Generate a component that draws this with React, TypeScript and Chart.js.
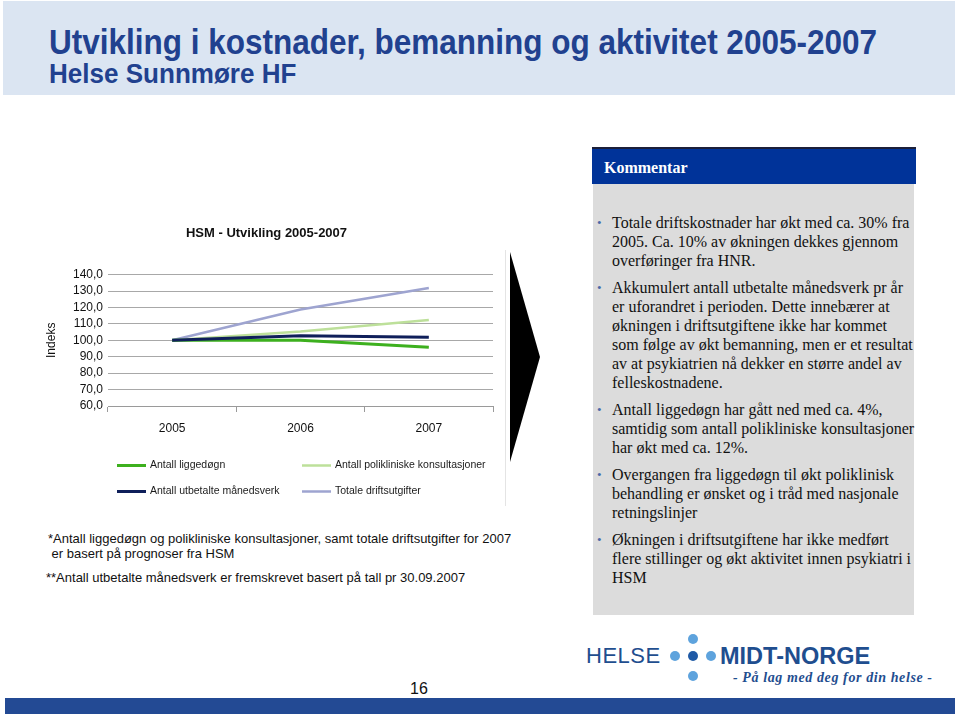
import React, { useEffect, useRef } from 'react';
import { Chart, registerables } from 'chart.js';

Chart.register(...registerables);

// ---- data ----
const years = ['2005', '2006', '2007'];
const liggedogn = [100.0, 100.0, 95.7];
const poliklinisk = [100.0, 105.3, 112.4];
const manedsverk = [100.0, 102.8, 101.9];
const driftsutgifter = [100.0, 118.7, 131.8];
const seriesNames = [
  'Antall liggedøgn',
  'Antall polikliniske konsultasjoner',
  'Antall utbetalte månedsverk',
  'Totale driftsutgifter',
];
const yMin = 60;
const yMax = 140;
const yStep = 10;

const SANS = '"Liberation Sans", Arial, sans-serif';
const SERIF = '"Liberation Serif", "Times New Roman", serif';

const comments: string[][] = [
  ['Totale driftskostnader har økt med ca. 30% fra', '2005. Ca. 10% av økningen dekkes gjennom', 'overføringer fra HNR.'],
  [
    'Akkumulert antall utbetalte månedsverk pr år',
    'er uforandret i perioden. Dette innebærer at',
    'økningen i driftsutgiftene ikke har kommet',
    'som følge av økt bemanning, men er et resultat',
    'av at psykiatrien nå dekker en større andel av',
    'felleskostnadene.',
  ],
  ['Antall liggedøgn har gått ned med ca. 4%,', 'samtidig som antall polikliniske konsultasjoner', 'har økt med ca. 12%.'],
  ['Overgangen fra liggedøgn til økt poliklinisk', 'behandling er ønsket og i tråd med nasjonale', 'retningslinjer'],
  ['Økningen i driftsutgiftene har ikke medført', 'flere stillinger og økt aktivitet innen psykiatri i', 'HSM'],
];

const legendPos: [number, number][] = [
  [77, 247],
  [262, 247],
  [77, 273],
  [262, 273],
];

const gridLegend = {
  id: 'gridLegend',
  afterDraw(chart: any) {
    const ctx = chart.ctx;
    chart.data.datasets.forEach((ds: any, i: number) => {
      const [x, y] = legendPos[i];
      ctx.save();
      ctx.strokeStyle = ds.borderColor;
      ctx.lineWidth = ds.borderWidth;
      ctx.beginPath();
      ctx.moveTo(x, y + 0.5);
      ctx.lineTo(x + 29, y + 0.5);
      ctx.stroke();
      ctx.fillStyle = '#1a1a1a';
      ctx.font = '10.5px ' + SANS;
      ctx.textBaseline = 'middle';
      ctx.fillText(ds.label, x + 33, y);
      ctx.restore();
    });
  },
};

function LineChart() {
  const ref = useRef<HTMLCanvasElement | null>(null);
  useEffect(() => {
    if (!ref.current) return;
    const chart = new Chart(ref.current, {
      type: 'line',
      data: {
        labels: years,
        datasets: [
          { label: seriesNames[0], data: liggedogn, borderColor: '#3db01e', borderWidth: 3, pointRadius: 0, tension: 0, order: 2 },
          { label: seriesNames[1], data: poliklinisk, borderColor: '#bde09a', borderWidth: 2.5, pointRadius: 0, tension: 0, order: 3 },
          { label: seriesNames[2], data: manedsverk, borderColor: '#0f1f5a', borderWidth: 3, pointRadius: 0, tension: 0, order: 1 },
          { label: seriesNames[3], data: driftsutgifter, borderColor: '#9ea4d0', borderWidth: 2.5, pointRadius: 0, tension: 0, order: 4 },
        ],
      },
      options: {
        animation: false,
        responsive: true,
        maintainAspectRatio: false,
        devicePixelRatio: 1,
        layout: { padding: { top: 0, right: 17, bottom: 71, left: 0 } },
        plugins: {
          legend: { display: false },
          tooltip: { enabled: false },
          title: {
            display: true,
            text: 'HSM - Utvikling 2005-2007',
            color: '#111',
            font: { family: SANS, size: 13, weight: 'bold' },
            padding: { top: 8, bottom: 33 },
          },
        },
        scales: {
          x: {
            offset: true,
            grid: { offset: true, drawOnChartArea: false, drawTicks: true, tickLength: 6, color: '#9a9a9a' },
            border: { display: true, color: '#9a9a9a' },
            ticks: { color: '#111', font: { family: SANS, size: 12 }, padding: 9, maxRotation: 0 },
            afterFit: (s: any) => { s.height = 36; },
          },
          y: {
            min: yMin,
            max: yMax,
            ticks: {
              stepSize: yStep,
              autoSkip: false,
              color: '#111',
              font: { family: SANS, size: 12 },
              padding: 5,
              callback: (v: any) => Number(v).toFixed(1).replace('.', ','),
            },
            grid: { color: '#a8a8a8', drawTicks: false },
            border: { display: false },
            title: { display: true, text: 'Indeks', color: '#111', font: { family: SANS, size: 12 }, padding: { top: 4, bottom: 0 } },
            afterFit: (s: any) => { s.width = 68; },
          },
        },
      },
      plugins: [gridLegend],
    });
    return () => chart.destroy();
  }, []);
  return (
    <div style={{ position: 'absolute', left: 40, top: 218, width: 470, height: 295 }}>
      <canvas ref={ref} />
    </div>
  );
}

export default function App() {
  const abs = (s: React.CSSProperties): React.CSSProperties => ({ position: 'absolute', ...s });
  return (
    <div style={abs({ left: 0, top: 0, width: 960, height: 716, background: '#fff', overflow: 'hidden', fontFamily: SANS })}>
      {/* title banner */}
      <div style={abs({ left: 3, top: 1, width: 952, height: 94, background: '#dbe5f2' })} />
      <div style={abs({ left: 49, top: 22, fontSize: 35, fontWeight: 'bold', color: '#21418f', whiteSpace: 'nowrap', lineHeight: '40px', transform: 'scaleX(0.9)', transformOrigin: '0 0' })}>
        Utvikling i kostnader, bemanning og aktivitet 2005-2007
      </div>
      <div style={abs({ left: 49, top: 58, fontSize: 28, fontWeight: 'bold', color: '#21418f', whiteSpace: 'nowrap', lineHeight: '32px', transform: 'scaleX(0.93)', transformOrigin: '0 0' })}>
        Helse Sunnmøre HF
      </div>

      {/* chart */}
      <LineChart />
      <div style={abs({ left: 505, top: 250, width: 1, height: 256, background: '#e4e4e4' })} />

      {/* arrow */}
      <svg style={abs({ left: 505, top: 248, overflow: 'visible' })} width={40} height={216}>
        <polygon points="5,4 35,109 5,214" fill="#000" />
      </svg>

      {/* footnotes */}
      <div style={abs({ left: 48, top: 531, fontSize: 13, color: '#111', whiteSpace: 'nowrap', lineHeight: '15px' })}>
        *Antall liggedøgn og polikliniske konsultasjoner, samt totale driftsutgifter for 2007
      </div>
      <div style={abs({ left: 48, top: 546, fontSize: 13, color: '#111', whiteSpace: 'pre', lineHeight: '15px' })}>
        {' er basert på prognoser fra HSM'}
      </div>
      <div style={abs({ left: 46, top: 570, fontSize: 13, color: '#111', whiteSpace: 'nowrap', lineHeight: '15px' })}>
        **Antall utbetalte månedsverk er fremskrevet basert på tall pr 30.09.2007
      </div>

      {/* comment box */}
      <div style={abs({ left: 592, top: 147, width: 324, height: 37, background: '#003399', borderTop: '2px solid #1b1f3a', boxSizing: 'border-box' })} />
      <div style={abs({ left: 604, top: 158, fontFamily: SERIF, fontWeight: 'bold', fontSize: 16, color: '#fff', lineHeight: '19px' })}>
        Kommentar
      </div>
      <div style={abs({ left: 593, top: 184, width: 321, height: 431, background: '#dcdcdc' })} />
      <div style={abs({ left: 597, top: 213, fontFamily: SERIF, fontSize: 16, color: '#111', lineHeight: '19px' })}>
        {comments.map((lines, i) => (
          <div key={i} style={{ position: 'relative', marginBottom: 8, paddingLeft: 15, whiteSpace: 'nowrap' }}>
            <span style={{ position: 'absolute', left: 0, top: 0, color: '#4a6aa8', fontSize: 13 }}>•</span>
            {lines.map((l, j) => (
              <div key={j}>{l}</div>
            ))}
          </div>
        ))}
      </div>

      {/* logo */}
      <div style={abs({ left: 586, top: 643, fontSize: 22, color: '#1f4e8f', lineHeight: '26px', letterSpacing: 0.5 })}>HELSE</div>
      {[
        [693, 639, '#5ea3dd'],
        [675, 656, '#5ea3dd'],
        [693, 656, '#1f5aa6'],
        [711, 656, '#5ea3dd'],
        [693, 676, '#5ea3dd'],
      ].map(([x, y, c], i) => (
        <div key={i} style={abs({ left: (x as number) - 5, top: (y as number) - 5, width: 10, height: 10, borderRadius: 5, background: c as string })} />
      ))}
      <div style={abs({ left: 720, top: 642, fontSize: 23.5, fontWeight: 'bold', color: '#1f4e8f', lineHeight: '28px' })}>MIDT-NORGE</div>
      <div style={abs({ left: 733, top: 669, fontFamily: SERIF, fontStyle: 'italic', fontWeight: 'bold', fontSize: 14, color: '#1f4e8f', lineHeight: '18px', letterSpacing: 0.6 })}>
        - På lag med deg for din helse -
      </div>

      {/* page number and bottom bar */}
      <div style={abs({ left: 410, top: 680, fontSize: 16, color: '#111', lineHeight: '18px' })}>16</div>
      <div style={abs({ left: 5, top: 698, width: 950, height: 16, background: '#234a94' })} />
    </div>
  );
}
